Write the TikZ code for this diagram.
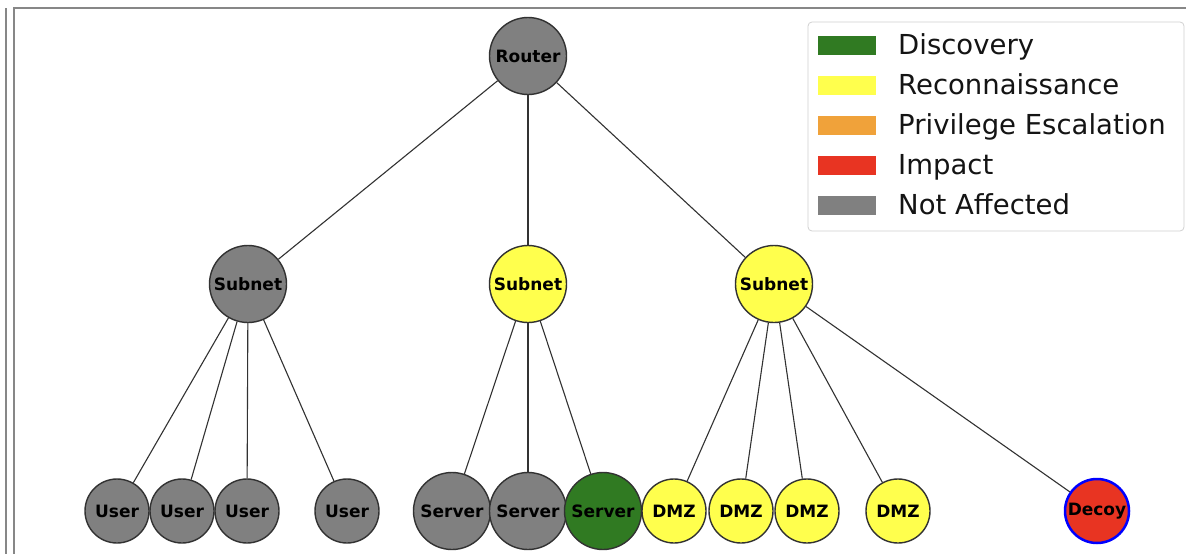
\documentclass[tikz,border=0pt]{standalone}
\usepackage{fontspec}
\setmainfont{DejaVu Sans}
\definecolor{notaff}{RGB}{128,128,128}
\definecolor{recon}{RGB}{255,255,77}
\definecolor{disc}{RGB}{48,122,34}
\definecolor{priv}{RGB}{240,162,58}
\definecolor{impact}{RGB}{232,52,34}
\definecolor{edgecol}{RGB}{50,50,50}
\definecolor{framecol}{RGB}{135,135,135}
\begin{document}
\begin{tikzpicture}[x=1pt,y=-1pt,
  host/.style={circle, draw=edgecol, line width=1.4pt, inner sep=0pt, text=black,
    font=\fontsize{17}{19}\selectfont\bfseries},
  bighost/.style={host, minimum size=77pt},
  smallhost/.style={host, minimum size=64pt},
  link/.style={draw=edgecol, line width=1.1pt},
  legpatch/.style={inner sep=0pt, minimum width=58pt, minimum height=19pt},
  legtext/.style={anchor=base west, inner sep=0pt, font=\fontsize{27.5}{30}\selectfont, text=black!92}
]
\useasboundingbox (0,0) rectangle (1186,554);
\fill[white] (0,0) rectangle (1186,554);

% frame lines
\draw[framecol, line width=2pt] (6,8) -- (6,554);
\draw[framecol, line width=2pt] (14,554) -- (14,8) -- (1186,8);

% hosts
\node[bighost, fill=notaff] (router) at (528,56) {Router};
\node[bighost, fill=notaff] (subA) at (248,284) {Subnet};
\node[bighost, fill=recon]  (subB) at (528,284) {Subnet};
\node[bighost, fill=recon]  (subC) at (774,284) {Subnet};

\node[smallhost, fill=notaff] (user1) at (117,511) {User};
\node[smallhost, fill=notaff] (user2) at (182,511) {User};
\node[smallhost, fill=notaff] (user3) at (247,511) {User};
\node[smallhost, fill=notaff] (user4) at (347,511) {User};

\node[bighost, fill=notaff] (srv1) at (452,511) {Server};
\node[bighost, fill=notaff] (srv2) at (528,511) {Server};
\node[bighost, fill=disc]   (srv3) at (603,511) {Server};

\node[smallhost, fill=recon] (dmz1) at (674,511) {DMZ};
\node[smallhost, fill=recon] (dmz2) at (741,511) {DMZ};
\node[smallhost, fill=recon] (dmz3) at (807,511) {DMZ};
\node[smallhost, fill=recon] (dmz4) at (898,511) {DMZ};

\node[smallhost, fill=impact, draw=blue, line width=2.5pt] (decoy) at (1097,511) {Decoy};

% links
\draw[link] (router) -- (subA);
\draw[link] (router) -- (subB);
\draw[link] (router) -- (subC);
\foreach \u in {user1,user2,user3,user4} \draw[link] (subA) -- (\u);
\foreach \s in {srv1,srv2,srv3} \draw[link] (subB) -- (\s);
\foreach \d in {dmz1,dmz2,dmz3,dmz4,decoy} \draw[link] (subC) -- (\d);

% legend
\draw[draw=black!18, line width=0.8pt, fill=white, rounded corners=4pt] (808,22) rectangle (1184,231);
\node[legpatch, fill=disc]   (pd) at (847,45.5) {};
\node[legpatch, fill=recon]  (pr) at (847,85.5) {};
\node[legpatch, fill=priv]   (pp) at (847,125.5) {};
\node[legpatch, fill=impact] (pi) at (847,165.5) {};
\node[legpatch, fill=notaff] (pn) at (847,205.5) {};
\node[legtext] (td) at (898,54.5) {Discovery};
\node[legtext] (tr) at (898,94.5) {Reconnaissance};
\node[legtext] (tp) at (898,134.5) {Privilege Escalation};
\node[legtext] (ti) at (898,174.5) {Impact};
\node[legtext] (tn) at (898,214.5) {Not Affected};
\end{tikzpicture}
\end{document}
